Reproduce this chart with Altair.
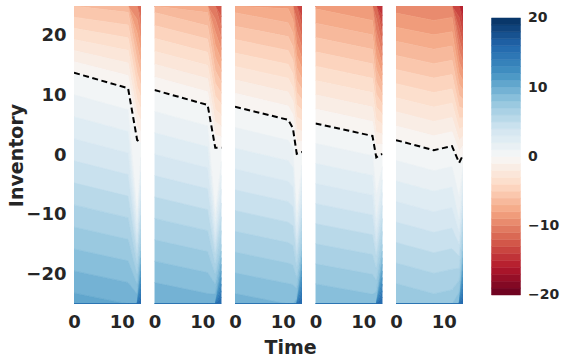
import altair as alt
import numpy as np
import pandas as pd

# Axis ranges shared by all panels
T_DOMAIN = [0, 14]
Q_DOMAIN = [-25, 25]
LEVEL_LO = list(range(-20, 20))  # lower edge of each one-unit colour band

# Dashed boundary line of each panel: (time, inventory) vertices
line_t = [
    [0, 11.3, 13.2, 14],
    [0, 11.1, 12.7, 14],
    [0, 11.1, 12.1, 12.9, 14],
    [0, 11.9, 12.7, 14],
    [0, 7.9, 11.7, 13.2, 14],
]
line_q = [
    [13.8, 11.2, 2.5, 2.0],
    [10.9, 8.4, 1.2, 1.2],
    [8.1, 5.9, 4.5, 0.2, 0.5],
    [5.3, 3.2, -0.4, 0.2],
    [2.5, 0.8, 1.5, -1.3, 0.0],
]

# Value surface of each panel, given column by column:
# column times, inventory nodes in each column and the value at each node
field_t = [
    [0, 11.3, 13.2, 14],
    [0, 11.1, 12.7, 14],
    [0, 11.1, 12.1, 12.9, 14],
    [0, 11.9, 12.7, 14],
    [0, 7.9, 11.7, 13.2, 14],
]
field_q = [
    [[-25, 13.8, 25], [-25, 11.2, 25], [-25, -10, 2.5, 25], [-25, -15, 2.0, 25]],
    [[-25, 10.9, 25], [-25, 8.4, 25], [-25, -10, 1.2, 25], [-25, -15, 1.2, 25]],
    [[-25, 8.1, 25], [-25, 5.9, 25], [-25, 4.5, 25], [-25, -10, 0.2, 25], [-25, -15, 0.5, 25]],
    [[-25, 5.3, 25], [-25, 3.2, 25], [-25, -10, -0.4, 25], [-25, -15, 0.2, 25]],
    [[-25, 2.5, 25], [-25, 0.8, 25], [-25, 1.5, 25], [-25, -10, -1.3, 25], [-25, -15, 0.0, 25]],
]
field_v = [
    [[10.5, 0, -6.0], [10.0, 0, -6.5], [10, 1, 0, -10], [16, 7, 0, -12]],
    [[10.0, 0, -6.5], [9.5, 0, -7.5], [10, 1, 0, -11], [16, 7, 0, -13]],
    [[9.5, 0, -7.5], [9.0, 0, -8.2], [9.0, 0, -9.0], [9.5, 1, 0, -12], [16, 7, 0, -14]],
    [[9.0, 0, -8.2], [8.5, 0, -9.0], [9.0, 1.5, 0, -12], [16, 7, 0, -15]],
    [[8.0, 0, -9.5], [7.5, 0, -10.0], [7.7, 0, -9.8], [9.0, 1.5, 0, -14], [16, 7, 0, -16]],
]

# RdBu diverging palette, linear between its eleven stops
RDBU = ["#67001f", "#b2182b", "#d6604d", "#f4a582", "#fddbc7", "#f7f7f7",
        "#d1e5f0", "#92c5de", "#4393c3", "#2166ac", "#053061"]
color_scale = alt.Scale(domain=list(np.linspace(-20, 20, 11)), range=RDBU,
                        interpolate="rgb")

INK = "#262626"
FONT = "DejaVu Sans"


def band_table(ts, qs, vs):
    """Filled contour bands: for each level, the inventory span whose value
    lies in [level, level+1] at every column time."""
    rows = []
    for lvl in LEVEL_LO:
        seg = []
        for t, q, v in zip(ts, qs, vs):
            q = np.asarray(q, float)[::-1]
            v = np.asarray(v, float)[::-1]
            lo = float(np.interp(lvl + 1, v, q))
            hi = float(np.interp(lvl, v, q))
            seg.append((t, lo, hi))
        if max(h - l for _, l, h in seg) < 1e-9:
            continue
        for t, lo, hi in seg:
            rows.append({"t": t, "lo": lo, "hi": hi, "mid": lvl + 0.5,
                         "band": str(lvl)})
    return pd.DataFrame(rows)


panels = []
for i in range(5):
    bands = band_table(field_t[i], field_q[i], field_v[i])
    line = pd.DataFrame({"t": line_t[i], "q": line_q[i]})

    if i == 2:
        x_axis = alt.Axis(values=[0, 10], labelFlush=False, labelOverlap=False,
                          labelPadding=9, title="Time", titleX=55, titleY=49,
                          titleBaseline="alphabetic")
    else:
        x_axis = alt.Axis(values=[0, 10], labelFlush=False, labelOverlap=False,
                          labelPadding=9, title=None)
    y_axis = None
    if i == 0:
        y_axis = alt.Axis(values=[-20, -10, 0, 10, 20], labelPadding=8,
                          title="Inventory", titlePadding=-1)

    x_enc = alt.X("t:Q", scale=alt.Scale(domain=T_DOMAIN, nice=False), axis=x_axis)

    area = alt.Chart(bands).mark_area(strokeWidth=0.6, clip=True).encode(
        x=x_enc,
        y=alt.Y("lo:Q", scale=alt.Scale(domain=Q_DOMAIN, nice=False), axis=y_axis),
        y2="hi:Q",
        color=alt.Color("mid:Q", scale=color_scale, legend=None),
        stroke=alt.Stroke("mid:Q", scale=color_scale, legend=None),
        detail="band:N",
    )
    dash = alt.Chart(line).mark_line(color="black", strokeWidth=2,
                                     strokeDash=[6, 3.5], clip=True).encode(
        x=alt.X("t:Q"),
        y=alt.Y("q:Q"),
    )
    panels.append(alt.layer(area, dash).properties(width=67, height=298))

# Colour bar: one rectangle per level band
cbar_df = pd.DataFrame({"lo": LEVEL_LO,
                        "hi": [l + 1 for l in LEVEL_LO],
                        "mid": [l + 0.5 for l in LEVEL_LO]})
cbar = alt.Chart(cbar_df).mark_rect(strokeWidth=0.5).encode(
    x=alt.value(15),
    x2=alt.value(44),
    y=alt.Y("lo:Q", scale=alt.Scale(domain=[-21.3, 21.73], nice=False, zero=False),
            axis=alt.Axis(orient="right", values=[-20, -10, 0, 10, 20],
                          labelFontSize=14, labelPadding=7, title=None)),
    y2="hi:Q",
    color=alt.Color("mid:Q", scale=color_scale, legend=None),
    stroke=alt.Stroke("mid:Q", scale=color_scale, legend=None),
).properties(width=44, height=298)

chart = alt.hconcat(*panels, cbar, spacing=13.5, bounds="flush").properties(
    padding={"left": 7, "top": 6, "right": 5, "bottom": 5}
).configure_view(stroke=None).configure_axis(
    domain=False, ticks=False, grid=False,
    labelFont=FONT, labelFontSize=18, labelFontWeight="bold", labelColor=INK,
    titleFont=FONT, titleFontSize=19, titleFontWeight="bold", titleColor=INK,
)

chart.save("out.html", embed_options={"renderer": "svg", "actions": False})
